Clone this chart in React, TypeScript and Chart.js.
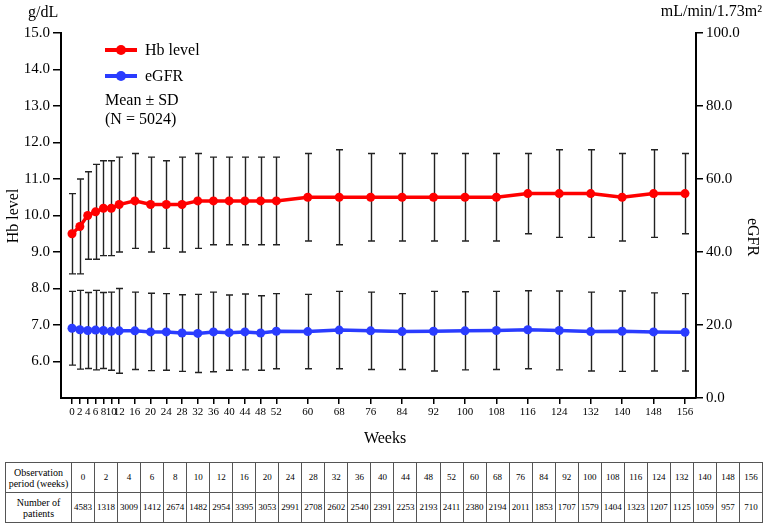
import React, { useEffect, useRef } from 'react';
import { Chart, registerables } from 'chart.js';
Chart.register(...registerables);

const weeks = [0, 2, 4, 6, 8, 10, 12, 16, 20, 24, 28, 32, 36, 40, 44, 48, 52, 60, 68, 76, 84, 92, 100, 108, 116, 124, 132, 140, 148, 156];
const hbMean = [9.5, 9.7, 10.0, 10.1, 10.2, 10.2, 10.3, 10.4, 10.3, 10.3, 10.3, 10.4, 10.4, 10.4, 10.4, 10.4, 10.4, 10.5, 10.5, 10.5, 10.5, 10.5, 10.5, 10.5, 10.6, 10.6, 10.6, 10.5, 10.6, 10.6];
const hbSD = [1.1, 1.3, 1.2, 1.3, 1.3, 1.3, 1.3, 1.3, 1.3, 1.2, 1.3, 1.3, 1.2, 1.2, 1.2, 1.2, 1.2, 1.2, 1.3, 1.2, 1.2, 1.2, 1.2, 1.2, 1.1, 1.2, 1.2, 1.2, 1.2, 1.1];
const egfrMean = [19.1, 18.7, 18.5, 18.6, 18.5, 18.3, 18.4, 18.4, 18.1, 18.1, 17.8, 17.7, 18.1, 17.9, 18.1, 17.8, 18.3, 18.2, 18.6, 18.4, 18.2, 18.3, 18.4, 18.5, 18.7, 18.5, 18.2, 18.3, 18.1, 18.0];
const egfrSD = [10.1, 10.8, 10.4, 10.9, 10.4, 10.7, 11.6, 10.6, 10.6, 10.5, 10.5, 10.7, 10.9, 10.3, 10.4, 10.2, 10.3, 10.2, 10.6, 10.6, 10.4, 10.9, 10.7, 10.7, 10.7, 10.8, 10.8, 11.0, 10.7, 10.6];
const patients = [4583, 1318, 3009, 1412, 2674, 1482, 2954, 3395, 3053, 2991, 2708, 2602, 2540, 2391, 2253, 2193, 2411, 2380, 2194, 2011, 1853, 1707, 1579, 1404, 1323, 1207, 1125, 1059, 957, 710];

const seriesNames = ['Hb level', 'eGFR'];
const seriesColors = ['#ff0000', '#2a3cff'];
const leftAxisTitle = 'Hb level';
const rightAxisTitle = 'eGFR';
const leftUnit = 'g/dL';
const rightUnit = 'mL/min/1.73m\u00B2';
const xTitle = 'Weeks';
const noteLines = ['Mean \u00B1 SD', '(N = 5024)'];
const tableRowHeaders = ['Observation period (weeks)', 'Number of patients'];

const SERIF = '"Liberation Serif", "Times New Roman", serif';
const sdArrays = [hbSD, egfrSD];

const overlay = {
  id: 'overlay',
  beforeDatasetsDraw(chart: any) {
    const ctx = chart.ctx;
    ctx.save();
    ctx.strokeStyle = '#222';
    ctx.lineWidth = 1.4;
    chart.data.datasets.forEach((ds: any, i: number) => {
      const meta = chart.getDatasetMeta(i);
      const ys = chart.scales[ds.yAxisID];
      meta.data.forEach((pt: any, j: number) => {
        const v = ds.data[j].y;
        const sd = sdArrays[i][j];
        const x = Math.round(pt.x) + 0.5;
        const yT = ys.getPixelForValue(v + sd);
        const yB = ys.getPixelForValue(v - sd);
        ctx.beginPath();
        ctx.moveTo(x, yT);
        ctx.lineTo(x, yB);
        ctx.moveTo(x - 3.5, yT);
        ctx.lineTo(x + 3.5, yT);
        ctx.moveTo(x - 3.5, yB);
        ctx.lineTo(x + 3.5, yB);
        ctx.stroke();
      });
    });
    ctx.restore();
  },
  afterDraw(chart: any) {
    const ctx = chart.ctx;
    ctx.save();
    ctx.fillStyle = '#000';
    ctx.font = '16px ' + SERIF;
    ctx.textBaseline = 'middle';
    ctx.textAlign = 'left';
    ctx.fillText(leftUnit, 28, 13);
    ctx.textAlign = 'right';
    ctx.fillText(rightUnit, 762, 12);
    // x title
    ctx.textAlign = 'center';
    ctx.fillText(xTitle, 385, 439);
    // left axis title
    ctx.save();
    ctx.translate(14, 216);
    ctx.rotate(-Math.PI / 2);
    ctx.fillText(leftAxisTitle, 0, 0);
    ctx.restore();
    // right axis title
    ctx.save();
    ctx.translate(752, 237);
    ctx.rotate(Math.PI / 2);
    ctx.fillText(rightAxisTitle, 0, 0);
    ctx.restore();
    // legend
    const legY = [50, 76];
    seriesNames.forEach((name, i) => {
      ctx.strokeStyle = seriesColors[i];
      ctx.fillStyle = seriesColors[i];
      ctx.lineWidth = 4;
      ctx.beginPath();
      ctx.moveTo(105, legY[i]);
      ctx.lineTo(137, legY[i]);
      ctx.stroke();
      ctx.beginPath();
      ctx.arc(121, legY[i], 5, 0, Math.PI * 2);
      ctx.fill();
      ctx.fillStyle = '#000';
      ctx.textAlign = 'left';
      ctx.fillText(name, 145, legY[i] + 1);
    });
    ctx.fillText(noteLines[0], 105, 101);
    ctx.fillText(noteLines[1], 105, 120);
    ctx.restore();
  },
};

function ChartCanvas() {
  const ref = useRef<HTMLCanvasElement | null>(null);
  useEffect(() => {
    if (!ref.current) return;
    const chart = new Chart(ref.current, {
      type: 'line',
      data: {
        datasets: [
          {
            label: seriesNames[0],
            data: weeks.map((w, i) => ({ x: w, y: hbMean[i] })),
            borderColor: seriesColors[0],
            backgroundColor: seriesColors[0],
            borderWidth: 3.5,
            pointRadius: 4.5,
            pointBorderWidth: 0,
            yAxisID: 'y',
          },
          {
            label: seriesNames[1],
            data: weeks.map((w, i) => ({ x: w, y: egfrMean[i] })),
            borderColor: seriesColors[1],
            backgroundColor: seriesColors[1],
            borderWidth: 3.5,
            pointRadius: 4.5,
            pointBorderWidth: 0,
            yAxisID: 'y2',
          },
        ],
      },
      options: {
        animation: false,
        responsive: false,
        maintainAspectRatio: false,
        layout: { padding: { top: 33, left: 0, right: 0, bottom: 0 } },
        plugins: { legend: { display: false }, tooltip: { enabled: false } },
        scales: {
          x: {
            type: 'linear',
            min: -2.8,
            max: 158.8,
            afterBuildTicks: (s: any) => {
              s.ticks = weeks.map((w) => ({ value: w }));
            },
            afterFit: (s: any) => {
              s.height = 57;
            },
            ticks: {
              autoSkip: false,
              maxRotation: 0,
              minRotation: 0,
              padding: 2,
              color: '#000',
              font: { family: SERIF, size: 11 },
              callback: (v: any) => String(v),
            },
            grid: { display: true, drawOnChartArea: false, drawTicks: true, tickLength: 6, color: '#000', lineWidth: 1.5 },
            border: { display: true, color: '#000', width: 2 },
          },
          y: {
            position: 'left',
            min: 5,
            max: 15,
            afterBuildTicks: (s: any) => {
              const t = [];
              for (let v = 5; v <= 15; v++) t.push({ value: v });
              s.ticks = t;
            },
            afterFit: (s: any) => {
              s.width = 61;
            },
            ticks: {
              padding: 3,
              color: '#000',
              font: { family: SERIF, size: 15 },
              callback: (v: any) => (v === 5 ? '' : Number(v).toFixed(1)),
            },
            grid: {
              display: true,
              drawOnChartArea: false,
              drawTicks: true,
              tickLength: 8,
              lineWidth: 1.5,
              color: (c: any) => (c.tick && c.tick.value === 5 ? 'rgba(0,0,0,0)' : '#000'),
            },
            border: { display: true, color: '#000', width: 2 },
          },
          y2: {
            position: 'right',
            min: 0,
            max: 100,
            afterBuildTicks: (s: any) => {
              const t = [];
              for (let v = 0; v <= 100; v += 20) t.push({ value: v });
              s.ticks = t;
            },
            afterFit: (s: any) => {
              s.width = 71;
            },
            ticks: {
              padding: 3,
              color: '#000',
              font: { family: SERIF, size: 15 },
              callback: (v: any) => Number(v).toFixed(1),
            },
            grid: { display: true, drawOnChartArea: false, drawTicks: true, tickLength: 7, color: '#000', lineWidth: 1.5 },
            border: { display: true, color: '#000', width: 2 },
          },
        },
      },
      plugins: [overlay],
    } as any);
    return () => chart.destroy();
  }, []);
  return <canvas ref={ref} width={767} height={455} style={{ display: 'block', width: 767, height: 455 }} />;
}

export default function App() {
  const cell: React.CSSProperties = {
    border: '1px solid #555',
    textAlign: 'center',
    padding: 0,
    fontSize: 9,
    lineHeight: '11px',
  };
  const head: React.CSSProperties = { ...cell, fontSize: 10 };
  return (
    <div style={{ position: 'absolute', left: 0, top: 0, width: 767, height: 525, background: '#fff', fontFamily: SERIF }}>
      <ChartCanvas />
      <table
        style={{
          position: 'absolute',
          left: 5,
          top: 462,
          width: 758,
          height: 60,
          borderCollapse: 'collapse',
          tableLayout: 'fixed',
          fontFamily: SERIF,
          color: '#000',
        }}
      >
        <colgroup>
          <col style={{ width: 66 }} />
          {weeks.map((w) => (
            <col key={w} />
          ))}
        </colgroup>
        <tbody>
          <tr style={{ height: 30 }}>
            <td style={head}>{tableRowHeaders[0]}</td>
            {weeks.map((w) => (
              <td key={w} style={cell}>{w}</td>
            ))}
          </tr>
          <tr style={{ height: 30 }}>
            <td style={head}>{tableRowHeaders[1]}</td>
            {patients.map((p, i) => (
              <td key={i} style={cell}>{p}</td>
            ))}
          </tr>
        </tbody>
      </table>
    </div>
  );
}
